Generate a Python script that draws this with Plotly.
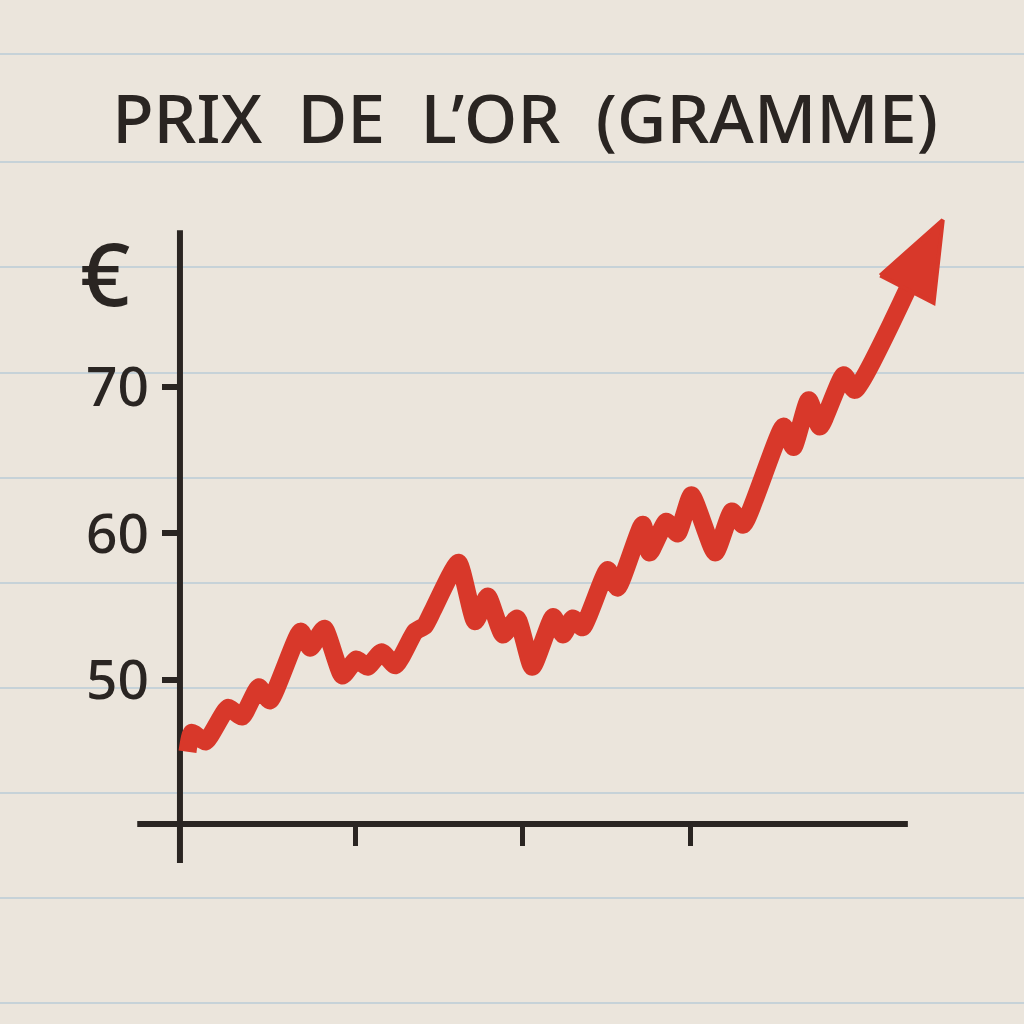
import math
import plotly.graph_objects as go

# ---- data (months since start, price in EUR per gram) ----
months = [0, 0.3, 1.3, 2.9, 3.9, 5.1, 5.9, 8.1, 8.8, 9.8, 11.1, 12.1, 12.9, 13.9, 14.9,
          16.3, 17.0, 17.6, 19.4, 20.6, 21.5, 22.6, 23.6, 24.7, 26.2, 26.9, 27.6, 28.3,
          30.1, 30.8, 32.6, 33.1, 34.3, 35.1, 36.1, 37.8, 39.0, 39.8, 42.7, 43.4, 44.5,
          45.3, 47.0, 47.8, 54.1]
price = [45.1, 46.4, 45.8, 48.1, 47.5, 49.5, 48.6, 53.3, 52.2, 53.5, 50.3, 51.4, 50.9,
         51.9, 51.0, 53.3, 53.7, 54.8, 58.0, 54.0, 55.7, 53.1, 54.2, 50.9, 54.3, 53.1,
         54.2, 53.6, 57.5, 56.3, 60.6, 58.7, 60.8, 60.0, 62.6, 58.7, 61.5, 60.6, 67.3,
         65.9, 69.1, 67.3, 70.8, 69.8, 81.4]
y_ticks = [50, 60, 70]
y_tick_labels = ["50", "60", "70"]
x_ticks = [12, 24, 36]
title = "PRIX\u00a0 DE\u00a0 L’OR\u00a0 (GRAMME)"
unit = "€"

# ---- style ----
BG = "#EBE5DC"
RULE = "#C6D2D8"
INK = "#2A2522"
RED = "#D8382A"
FONT = "Noto Sans"

W = H = 1024
X_DOM = [120 / W, 970 / W]
Y_DOM = [1 - 870 / H, 1 - 200 / H]
X_RANGE = [-4.835, 56.05]
Y_RANGE = [37.03, 82.76]
AX_X0 = -0.54
AX_Y0 = 40.17
X_LINE = [-3.6, 51.6]
Y_LINE = [37.5, 80.7]

# pixel scales (for shaping the arrow head in screen space)
sx = (X_DOM[1] - X_DOM[0]) * W / (X_RANGE[1] - X_RANGE[0])
sy = (Y_DOM[1] - Y_DOM[0]) * H / (Y_RANGE[1] - Y_RANGE[0])
HEAD_LEN, HEAD_HALF = 78, 30

tx, ty = months[-1], price[-1]
px_, py_ = months[-2], price[-2]
dx, dy = (tx - px_) * sx, (ty - py_) * sy
d = math.hypot(dx, dy)
ux, uy = dx / d, dy / d
bx, by = tx - HEAD_LEN * ux / sx, ty - HEAD_LEN * uy / sy  # base middle
c1 = (bx - HEAD_HALF * uy / sx, by + HEAD_HALF * ux / sy)
c2 = (bx + HEAD_HALF * uy / sx, by - HEAD_HALF * ux / sy)
ex, ey = tx - (HEAD_LEN - 14) * ux / sx, ty - (HEAD_LEN - 14) * uy / sy

fig = go.Figure()
fig.add_trace(go.Scatter(
    x=months[:-1] + [ex], y=price[:-1] + [ey], mode="lines",
    line=dict(color=RED, width=18, shape="spline", smoothing=0.5),
    hoverinfo="skip", showlegend=False,
))
fig.add_trace(go.Scatter(
    x=[c1[0], tx, c2[0], c1[0]], y=[c1[1], ty, c2[1], c1[1]], mode="lines",
    fill="toself", fillcolor=RED, line=dict(color=RED, width=4),
    hoverinfo="skip", showlegend=False,
))

shapes = []
for yp in [54, 162, 267, 373, 478, 583, 688, 793, 898, 1003]:
    shapes.append(dict(type="line", xref="paper", yref="paper", x0=0, x1=1,
                       y0=1 - yp / H, y1=1 - yp / H, layer="below",
                       line=dict(color=RULE, width=2)))
shapes.append(dict(type="line", xref="x", yref="y", x0=AX_X0, x1=AX_X0,
                   y0=Y_LINE[0], y1=Y_LINE[1], layer="below",
                   line=dict(color=INK, width=6)))
shapes.append(dict(type="line", xref="x", yref="y", x0=X_LINE[0], x1=X_LINE[1],
                   y0=AX_Y0, y1=AX_Y0, layer="below",
                   line=dict(color=INK, width=6)))

fig.update_layout(
    width=W, height=H,
    margin=dict(l=0, r=0, t=0, b=0),
    paper_bgcolor=BG, plot_bgcolor="rgba(0,0,0,0)",
    shapes=shapes,
    title=dict(text=title, x=525 / W, xanchor="center", y=1 - 119 / H, yanchor="middle",
               font=dict(family=FONT, size=68, color=INK, weight=500)),
    xaxis=dict(range=X_RANGE, domain=X_DOM, anchor="free",
               position=1 - 824 / H, showgrid=False, zeroline=False, showline=False,
               tickvals=x_ticks, ticks="outside", ticklen=21, tickwidth=5,
               tickcolor=INK, showticklabels=False),
    yaxis=dict(range=Y_RANGE, domain=Y_DOM, anchor="free",
               position=180 / W, showgrid=False, zeroline=False, showline=False,
               tickvals=y_ticks, ticktext=y_tick_labels, ticks="outside", ticklen=18,
               tickwidth=6, tickcolor=INK, ticklabelstandoff=2,
               tickfont=dict(family=FONT, size=55, color=INK, weight=500)),
    annotations=[dict(text=unit, xref="paper", yref="paper", x=105 / W, y=1 - 272 / H,
                      xanchor="center", yanchor="middle", showarrow=False,
                      font=dict(family=FONT, size=88, color=INK, weight=500))],
)

fig.write_html("out.html", config={"displayModeBar": False},
               post_script="document.body.style.margin='0';")
